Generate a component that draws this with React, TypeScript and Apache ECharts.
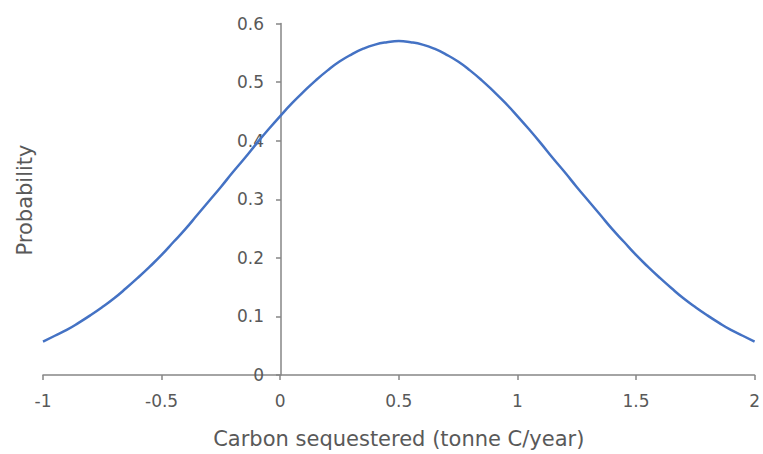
import React, { useEffect, useRef } from "react";
import * as echarts from "echarts";

const xValues = [
  -1, -0.95, -0.9, -0.85, -0.8, -0.75, -0.7, -0.65, -0.6, -0.55, -0.5, -0.45, -0.4, -0.35,
  -0.3, -0.25, -0.2, -0.15, -0.1, -0.05, 0, 0.05, 0.1, 0.15, 0.2, 0.25, 0.3, 0.35, 0.4,
  0.45, 0.5, 0.55, 0.6, 0.65, 0.7, 0.75, 0.8, 0.85, 0.9, 0.95, 1, 1.05, 1.1, 1.15, 1.2,
  1.25, 1.3, 1.35, 1.4, 1.45, 1.5, 1.55, 1.6, 1.65, 1.7, 1.75, 1.8, 1.85, 1.9, 1.95, 2,
];
const probability = [
  0.057, 0.067, 0.077, 0.089, 0.102, 0.116, 0.131, 0.148, 0.166, 0.185, 0.205, 0.227,
  0.249, 0.273, 0.297, 0.321, 0.346, 0.37, 0.395, 0.419, 0.442, 0.464, 0.484, 0.503,
  0.52, 0.535, 0.547, 0.557, 0.564, 0.568, 0.57, 0.568, 0.564, 0.557, 0.547, 0.535, 0.52,
  0.503, 0.484, 0.464, 0.442, 0.419, 0.395, 0.37, 0.346, 0.321, 0.297, 0.273, 0.249,
  0.227, 0.205, 0.185, 0.166, 0.148, 0.131, 0.116, 0.102, 0.089, 0.077, 0.067, 0.057,
];
const xTitle = "Carbon sequestered (tonne C/year)";
const yTitle = "Probability";

export default function App() {
  const ref = useRef<HTMLDivElement>(null);
  useEffect(() => {
    if (!ref.current) return;
    const chart = echarts.init(ref.current, undefined, { renderer: "svg" });
    const font = "'DejaVu Sans', sans-serif";
    const axisColor = "#868686";
    const textColor = "#595959";
    const gridLeft = 43;
    const gridRight = 6;
    const plotWidth = 763 - gridLeft - gridRight;
    // y axis crosses the x axis at x = 0, which is 1/3 of the way across (-1..2)
    const yAxisShift = (plotWidth * (0 - -1)) / (2 - -1);
    chart.setOption({
      animation: false,
      grid: { left: gridLeft, right: gridRight, top: 23.5, bottom: 77.5, containLabel: false },
      xAxis: {
        type: "value",
        min: -1,
        max: 2,
        interval: 0.5,
        name: xTitle,
        nameLocation: "middle",
        nameGap: 53,
        nameTextStyle: { fontFamily: font, fontSize: 21, color: textColor },
        axisLine: { show: true, lineStyle: { color: axisColor, width: 1.5 } },
        axisTick: { show: true, length: 5, lineStyle: { color: axisColor, width: 1.5 } },
        axisLabel: { margin: 17, fontFamily: font, fontSize: 17, color: textColor },
        splitLine: { show: false },
      },
      yAxis: {
        type: "value",
        min: 0,
        max: 0.6,
        interval: 0.1,
        offset: -yAxisShift,
        axisLine: { show: true, onZero: false, lineStyle: { color: axisColor, width: 1.5 } },
        axisTick: { show: true, length: 5, lineStyle: { color: axisColor, width: 1.5 } },
        axisLabel: { margin: 17, fontFamily: font, fontSize: 17, color: textColor },
        splitLine: { show: false },
      },
      graphic: [
        {
          type: "text",
          x: 25,
          y: 200,
          rotation: Math.PI / 2,
          style: {
            text: yTitle,
            align: "center",
            verticalAlign: "middle",
            fontFamily: font,
            fontSize: 21,
            fill: textColor,
          },
        },
      ],
      series: [
        {
          type: "line",
          data: xValues.map((x, i) => [x, probability[i]]),
          smooth: true,
          showSymbol: false,
          lineStyle: { color: "#4472C4", width: 2.5 },
        },
      ],
    });
    return () => chart.dispose();
  }, []);
  return (
    <div
      ref={ref}
      style={{ position: "absolute", left: 0, top: 0, width: 763, height: 454 }}
    />
  );
}
